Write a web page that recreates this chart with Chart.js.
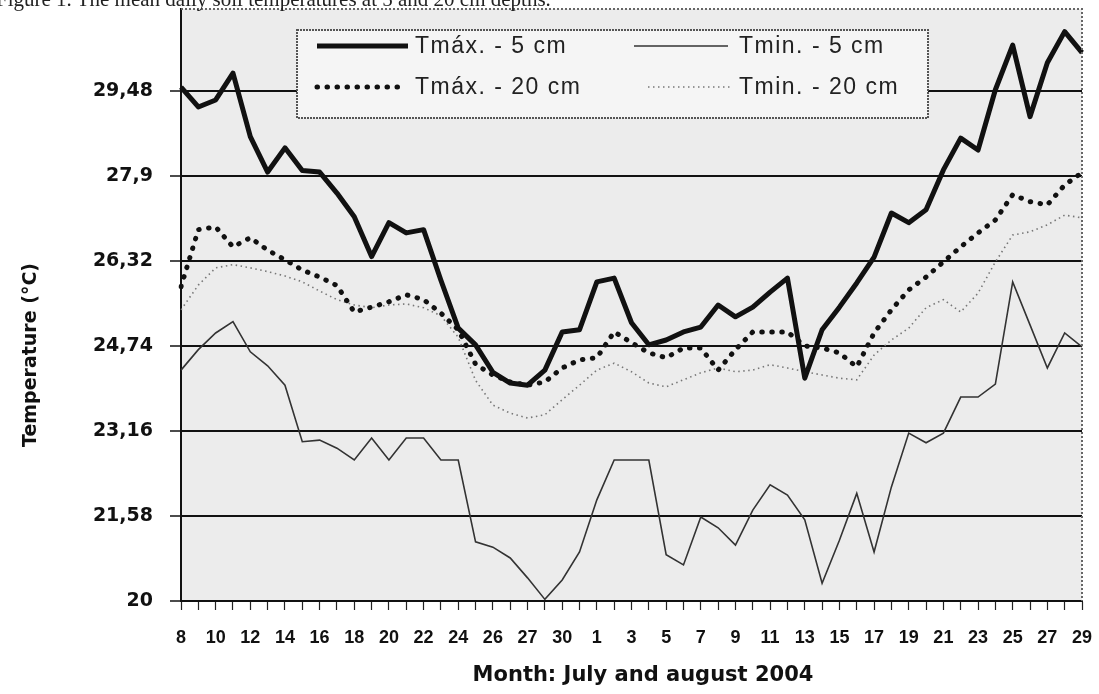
<!DOCTYPE html>
<html>
<head>
<meta charset="utf-8">
<script src="https://cdn.jsdelivr.net/npm/chart.js@4.4.0/dist/chart.umd.min.js"></script>
<style>
  html, body { margin: 0; padding: 0; background: #fff; overflow: hidden; }
  #wrap { position: relative; width: 1099px; height: 694px; }
  #canvas { position: absolute; left: 0; top: 0; }
  #caption {
    position: absolute; left: -4px; top: -13px;
    font: 21px 'Liberation Serif', 'Times New Roman', serif;
    color: #222; white-space: nowrap;
  }
</style>
</head>
<body>
<div id="wrap">
  <canvas id="canvas" width="1099" height="694"></canvas>
  <div id="caption">Figure 1. The mean daily soil temperatures at 5 and 20 cm depths.</div>
</div>
<script>
'use strict';

// days of the record: 8 July to 29 August 2004
const julyDays = [8, 9, 10, 11, 12, 13, 14, 15, 16, 17, 18, 19, 20, 21, 22, 23, 24, 25, 26, 27, 28, 29, 30, 31];
const augustDays = [1, 2, 3, 4, 5, 6, 7, 8, 9, 10, 11, 12, 13, 14, 15, 16, 17, 18, 19, 20, 21, 22, 23, 24, 25, 26, 27, 28, 29];

// labels printed under every second day (as on the original figure)
const tickLabels = ['8', '10', '12', '14', '16', '18', '20', '22', '24', '26', '27', '30',
  '1', '3', '5', '7', '9', '11', '13', '15', '17', '19', '21', '23', '25', '27', '29'];

const yTicks = [20, 21.58, 23.16, 24.74, 26.32, 27.9, 29.48];
const yTickLabels = ['20', '21,58', '23,16', '24,74', '26,32', '27,9', '29,48'];

const seriesNames = ['Tmáx. - 5 cm', 'Tmin. - 5 cm', 'Tmáx. - 20 cm', 'Tmin. - 20 cm'];

// mean daily temperatures (°C)
const tmax5 = [29.55, 29.18, 29.31, 29.81, 28.63, 27.97, 28.42, 28.0, 27.97, 27.58,
  27.14, 26.4, 27.03, 26.84, 26.9, 25.96, 25.07, 24.76, 24.25, 24.05,
  24.01, 24.29, 25.0, 25.04, 25.93, 26.0, 25.17, 24.76, 24.85, 25.0,
  25.09, 25.5, 25.28, 25.46, 25.74, 26.0, 24.14, 25.04, 25.46, 25.91,
  26.39, 27.21, 27.03, 27.27, 28.01, 28.6, 28.38, 29.5, 30.33, 29.0,
  30.0, 30.58, 30.19];

const tmin5 = [24.29, 24.67, 24.98, 25.19, 24.63, 24.37, 24.01, 22.96, 22.99, 22.84,
  22.62, 23.03, 22.62, 23.03, 23.03, 22.62, 22.62, 21.1, 21.0, 20.8,
  20.43, 20.03, 20.39, 20.91, 21.88, 22.62, 22.62, 22.62, 20.86, 20.67,
  21.56, 21.36, 21.04, 21.69, 22.16, 21.97, 21.51, 20.33, 21.13, 22.0,
  20.91, 22.12, 23.12, 22.94, 23.12, 23.79, 23.79, 24.03, 25.93, 25.13,
  24.33, 24.98, 24.72];

const tmax20 = [25.84, 26.9, 26.95, 26.58, 26.75, 26.52, 26.34, 26.15, 26.02, 25.86,
  25.37, 25.46, 25.56, 25.69, 25.6, 25.35, 25.04, 24.4, 24.2, 24.07,
  24.01, 24.07, 24.33, 24.48, 24.52, 25.0, 24.8, 24.61, 24.52, 24.7,
  24.7, 24.29, 24.67, 25.0, 25.0, 25.0, 24.74, 24.7, 24.61, 24.35,
  24.98, 25.41, 25.78, 26.02, 26.3, 26.58, 26.84, 27.08, 27.55, 27.42,
  27.36, 27.73, 27.96];

const tmin20 = [25.41, 25.87, 26.19, 26.25, 26.19, 26.12, 26.04, 25.93, 25.76, 25.6,
  25.5, 25.45, 25.5, 25.52, 25.45, 25.3, 24.9, 24.1, 23.64, 23.49,
  23.4, 23.46, 23.74, 24.01, 24.29, 24.42, 24.26, 24.05, 23.98, 24.11,
  24.24, 24.33, 24.26, 24.29, 24.39, 24.33, 24.26, 24.2, 24.14, 24.11,
  24.57, 24.85, 25.07, 25.45, 25.6, 25.37, 25.72, 26.3, 26.8, 26.86,
  26.99, 27.17, 27.12];

const categories = julyDays.map(d => d + ' Jul').concat(augustDays.map(d => d + ' Aug'));

// background, plot frame, legend box and axis titles
const extras = {
  id: 'extras',
  beforeDraw(chart) {
    const { ctx, chartArea: a } = chart;
    ctx.save();
    ctx.fillStyle = '#ececec';
    ctx.fillRect(a.left, a.top, a.right - a.left, a.bottom - a.top);
    ctx.restore();
  },
  afterDraw(chart) {
    const { ctx, chartArea: a } = chart;
    ctx.save();

    ctx.strokeStyle = '#666';
    ctx.lineWidth = 2;
    ctx.setLineDash([2, 2]);
    ctx.beginPath();
    ctx.moveTo(a.left, a.top);
    ctx.lineTo(a.right, a.top);
    ctx.lineTo(a.right, a.bottom);
    ctx.stroke();

    // legend
    ctx.fillStyle = '#f5f5f5';
    ctx.fillRect(297, 30, 631, 88);
    ctx.setLineDash([2, 1]);
    ctx.strokeStyle = '#555';
    ctx.strokeRect(297, 30, 631, 88);

    const slots = [
      { x0: 317, x1: 408, tx: 415, y: 46 },
      { x0: 634, x1: 728, tx: 739, y: 46 },
      { x0: 317, x1: 406, tx: 415, y: 87 },
      { x0: 648, x1: 730, tx: 739, y: 87 }
    ];
    chart.data.datasets.forEach((ds, i) => {
      const s = slots[i];
      ctx.strokeStyle = ds.borderColor;
      ctx.lineWidth = ds.borderWidth;
      ctx.lineCap = ds.borderCapStyle || 'butt';
      ctx.setLineDash(ds.borderDash || []);
      ctx.beginPath();
      ctx.moveTo(s.x0, s.y);
      ctx.lineTo(s.x1, s.y);
      ctx.stroke();
      ctx.fillStyle = '#222';
      ctx.font = "23px 'Liberation Sans', Arial, sans-serif";
      ctx.letterSpacing = '1.5px';
      ctx.textAlign = 'left';
      ctx.textBaseline = 'middle';
      ctx.fillText(ds.label, s.tx, s.y + 1);
    });
    ctx.letterSpacing = '0px';
    ctx.setLineDash([]);

    // axis titles
    ctx.fillStyle = '#111';
    ctx.textAlign = 'center';
    ctx.textBaseline = 'middle';
    ctx.font = "bold 21px 'DejaVu Sans', sans-serif";
    ctx.fillText('Month: July and august 2004', 643, 676);
    ctx.translate(31, 355);
    ctx.rotate(-Math.PI / 2);
    ctx.font = "bold 19px 'DejaVu Sans', sans-serif";
    ctx.fillText('Temperature (°C)', 0, 0);
    ctx.restore();
  }
};

const chart = new Chart(document.getElementById('canvas').getContext('2d'), {
  type: 'line',
  data: {
    labels: categories,
    datasets: [
      {
        label: seriesNames[0],
        data: tmax5,
        borderColor: '#111',
        borderWidth: 5,
        borderJoinStyle: 'round'
      },
      {
        label: seriesNames[1],
        data: tmin5,
        borderColor: '#333',
        borderWidth: 1.6
      },
      {
        label: seriesNames[2],
        data: tmax20,
        borderColor: '#111',
        borderWidth: 5,
        borderDash: [0.5, 9.5],
        borderCapStyle: 'round'
      },
      {
        label: seriesNames[3],
        data: tmin20,
        borderColor: '#777',
        borderWidth: 1.6,
        borderDash: [1.5, 3.5]
      }
    ]
  },
  options: {
    responsive: false,
    animation: false,
    layout: { padding: { left: 0, right: 17, top: 9, bottom: 0 } },
    elements: {
      point: { radius: 0 },
      line: { tension: 0, fill: false }
    },
    plugins: {
      legend: { display: false },
      tooltip: { enabled: false }
    },
    scales: {
      x: {
        type: 'category',
        offset: false,
        grid: {
          drawOnChartArea: false,
          drawTicks: true,
          tickLength: 9,
          tickColor: '#222',
          tickWidth: 1.2
        },
        border: { color: '#111', width: 2 },
        ticks: {
          autoSkip: false,
          maxRotation: 0,
          minRotation: 0,
          padding: 17,
          color: '#111',
          font: { family: "'Liberation Sans', Arial, sans-serif", size: 18, weight: 'bold' },
          callback: (value, index) => (index % 2 === 0 ? tickLabels[index / 2] : '')
        },
        afterFit: scale => {
          scale.height = 93;
          scale.paddingLeft = 0;
          scale.paddingRight = 0;
        }
      },
      y: {
        min: 20,
        max: 31,
        afterBuildTicks: scale => { scale.ticks = yTicks.map(v => ({ value: v })); },
        grid: {
          color: '#111',
          lineWidth: 2,
          tickLength: 11,
          tickColor: '#111',
          tickWidth: 1.5
        },
        border: { color: '#111', width: 2 },
        ticks: {
          padding: 17,
          color: '#111',
          font: { family: "'DejaVu Sans', sans-serif", size: 19, weight: 'bold', lineHeight: 1 },
          callback: (value, index) => yTickLabels[index]
        },
        afterFit: scale => {
          scale.width = 181;
          scale.paddingTop = 0;
          scale.paddingBottom = 0;
        }
      }
    }
  },
  plugins: [extras]
});
</script>
</body>
</html>
